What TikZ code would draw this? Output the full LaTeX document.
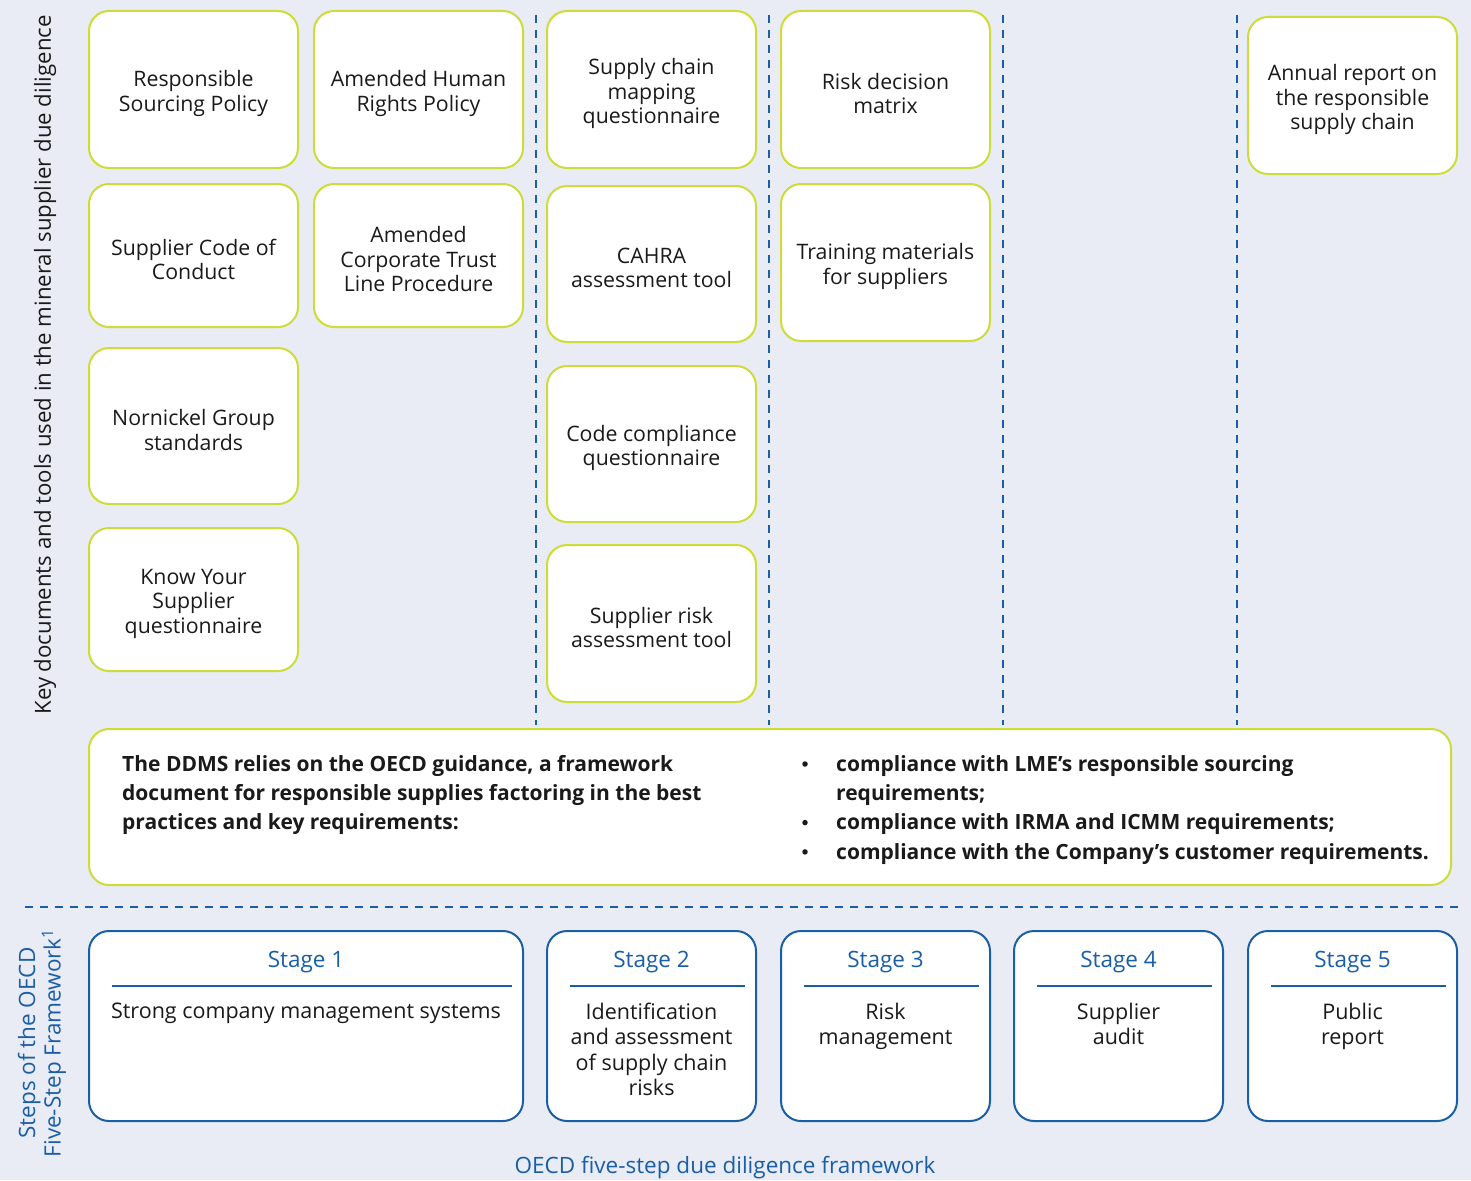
\documentclass[tikz,border=0pt]{standalone}
\usepackage{fontspec}
\setmainfont{Open Sans}
\definecolor{bg}{HTML}{E9ECF5}
\definecolor{lime}{HTML}{CDDC39}
\definecolor{oecdblue}{HTML}{1A5EA6}
\definecolor{ink}{HTML}{1A1A1A}
% a white tool box with its caption set slightly below the centre
\newcommand\docnode[4]{%
  \node[docbox, minimum height=#3] (#1) at (#2) {};
  \node[doctext] (#1-t) at ([yshift=-4pt]#1.center) {#4};}
\begin{document}
\begin{tikzpicture}[x=1pt,y=-1pt,
  docbox/.style={draw=lime, line width=2pt, fill=white, rounded corners=20pt,
    minimum width=209pt, inner sep=0pt},
  doctext/.style={align=center, inner sep=0pt, text=ink,
    font=\fontsize{21.3}{24.5}\selectfont},
  stagebox/.style={draw=oecdblue, line width=2pt, fill=white, rounded corners=20pt,
    minimum height=190pt, inner sep=0pt},
  stagetitle/.style={text=oecdblue, anchor=base, inner sep=0pt,
    font=\fontsize{22.5}{24}\selectfont},
  stagebody/.style={text=ink, anchor=north, align=center, inner sep=0pt,
    font=\fontsize{21.5}{25.3}\selectfont},
  stagerule/.style={draw=oecdblue, line width=2pt},
  divider/.style={draw=oecdblue, line width=2pt, dash pattern=on 8pt off 7pt},
  bigtext/.style={text=ink, anchor=north west, align=left, inner sep=0pt,
    font=\fontsize{21}{29.3}\selectfont\bfseries},
  dot/.style={circle, fill=ink, inner sep=0pt, minimum size=5.5pt},
]
% background and page frame
\fill[bg] (0,0) rectangle (1471,1180);
\useasboundingbox (0,0) rectangle (1471,1180);

% column dividers
\foreach \x in {536,769,1003,1237}{
  \draw[divider] (\x,15) -- (\x,725);
}
\coordinate (hl) at (25,907);
\coordinate (hr) at (1460,907);
\draw[divider] (hl) -- (hr);

% key documents and tools
\docnode{rsp}{193.5,89.5}{157pt}{Responsible\\Sourcing Policy}
\docnode{scc}{193.5,255.5}{143pt}{Supplier Code of\\Conduct}
\docnode{ngs}{193.5,426}{156pt}{Nornickel Group\\standards}
\docnode{kys}{193.5,599.5}{143pt}{Know Your\\Supplier\\questionnaire}

\docnode{ahr}{418.5,89.5}{157pt}{Amended Human\\Rights Policy}
\docnode{act}{418.5,255.5}{143pt}{Amended\\Corporate Trust\\Line Procedure}

\docnode{scm}{651.5,89.5}{157pt}{Supply chain\\mapping\\questionnaire}
\docnode{cah}{651.5,264}{156pt}{CAHRA\\assessment tool}
\docnode{ccq}{651.5,444}{156pt}{Code compliance\\questionnaire}
\docnode{sra}{651.5,623.5}{157pt}{Supplier risk\\assessment tool}

\docnode{rdm}{885.5,89.5}{157pt}{Risk decision\\matrix}
\docnode{tms}{885.5,262.5}{157pt}{Training materials\\for suppliers}

\docnode{arr}{1352.5,95.5}{157pt}{Annual report on\\the responsible\\supply chain}

% side label for the document area
\node[rotate=90, text=ink, inner sep=0pt, font=\fontsize{22.2}{24}\selectfont] (keylbl) at (45,365)
  {Key documents and tools used in the mineral supplier due diligence};

% DDMS summary
\node[docbox, minimum width=1362pt, minimum height=156pt] (ddms) at (770,807) {};
\node[bigtext] (ddmsl) at (122,755)
  {The DDMS relies on the OECD guidance, a framework\\document for responsible supplies factoring in the best\\practices and key requirements:};
\node[dot] (b1) at (805,764) {};
\node[dot] (b2) at (805,822.6) {};
\node[dot] (b3) at (805,851.9) {};
\node[bigtext] (ddmsr) at (836,755)
  {compliance with LME’s responsible sourcing\\requirements;\\compliance with IRMA and ICMM requirements;\\compliance with the Company’s customer requirements.};

% OECD five steps
\node[stagebox, minimum width=434pt] (st1) at (306,1026) {};
\node[stagebox, minimum width=209pt] (st2) at (651.5,1026) {};
\node[stagebox, minimum width=209pt] (st3) at (885.5,1026) {};
\node[stagebox, minimum width=209pt] (st4) at (1118.5,1026) {};
\node[stagebox, minimum width=209pt] (st5) at (1352.5,1026) {};

\foreach \s/\t/\b in {st1/Stage 1/{Strong company management systems},
                      st2/Stage 2/{Identification\\and assessment\\of supply chain\\risks},
                      st3/Stage 3/{Risk\\management},
                      st4/Stage 4/{Supplier\\audit},
                      st5/Stage 5/{Public\\report}}{
  \node[stagetitle] (\s t) at ([yshift=-37pt]\s.north) {\t};
  \draw[stagerule] ([xshift=24pt,yshift=-56pt]\s.north west) -- ([xshift=-12pt,yshift=-56pt]\s.north east);
  \node[stagebody] (\s b) at ([yshift=-73pt]\s.north) {\b};
}

% labels of the framework band
\node[rotate=90, text=oecdblue, align=center, inner sep=0pt, font=\fontsize{22.5}{25.5}\selectfont] (steplbl) at (42,1043)
  {Steps of the OECD\\Five-Step Framework\textsuperscript{1}};
\node[text=oecdblue, inner sep=0pt, font=\fontsize{22.5}{24}\selectfont] (oecdlbl) at (725,1168)
  {OECD five-step due diligence framework};
\end{tikzpicture}
\end{document}
